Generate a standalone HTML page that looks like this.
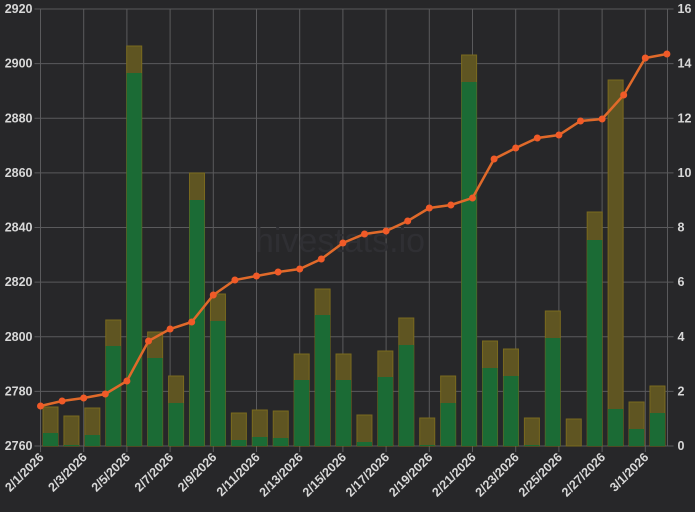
<!DOCTYPE html>
<html><head><style>body{margin:0;background:#272729;}svg{display:block}</style></head><body>
<svg width="695" height="512" xmlns="http://www.w3.org/2000/svg" font-family="Liberation Sans, sans-serif">
<rect width="695" height="512" fill="#272729"/>
<g id="grid" stroke="#5a5a5c" stroke-width="1"></g>
<text x="340" y="252" font-size="34" fill="#2f2f33" text-anchor="middle">hivestats.io</text>
<g id="bars"></g>
<g id="line"></g>
<g id="labels" fill="#d8d8d8" font-size="12.5" font-weight="bold"></g>
<script>
var ns="http://www.w3.org/2000/svg";
function el(p,t,a,txt){var e=document.createElementNS(ns,t);for(var k in a)e.setAttribute(k,a[k]);if(txt!=null)e.textContent=txt;document.getElementById(p).appendChild(e);return e;}
var L=40.5,R=667.5,T=9,B=446;
for(var i=0;i<=8;i++){var y=T+(B-T)*i/8;el("grid","line",{x1:L-6,x2:R+6,y1:y,y2:y});
el("labels","text",{x:L-8,y:y+4,"text-anchor":"end"},2920-20*i);
el("labels","text",{x:R+10,y:y+4},16-2*i);}
for(var i=0;i<15;i++){var x=L+21.6*2*i;el("grid","line",{x1:x,x2:x,y1:T,y2:B+6});
var d=i<14?"2/"+(1+2*i)+"/2026":"3/1/2026";
el("labels","text",{x:0,y:0,"text-anchor":"end",transform:"translate("+(x+4)+","+(B+12)+") rotate(-45)"},d);}
el("grid","line",{x1:R,x2:R,y1:T,y2:B});
var ol=[407,416,408,320,46,332,376,173,294,413,410,411,354,289,354,415,351,318,418,376,55,341,349,418,311,419,212,80,402,386];
var gr=[433,445,435,346,73,358,403,200,321,440,437,438,380,315,380,442,377,345,445,403,82,368,376,445,338,446,240,409,429,413];
for(var i=0;i<30;i++){var x=43+20.93*i;
el("bars","rect",{x:x,y:ol[i],width:15,height:B-ol[i],fill:"#5f5522",stroke:"#7a6a1e","stroke-width":1});
el("bars","rect",{x:x,y:gr[i],width:15,height:B-gr[i],fill:"#1b6b35"});}
var ly=[406,401,398,394,381,341,329,322,295,280,276,272,269,259,243,234,231,221,208,205,198,159,148,138,135,121,119,95,58,54];
var pts=ly.map(function(y,i){return (L+21.6*i)+","+y;}).join(" ");
el("line","polyline",{points:pts,fill:"none",stroke:"#e06a2a","stroke-width":2.5});
ly.forEach(function(y,i){el("line","circle",{cx:L+21.6*i,cy:y,r:3.5,fill:"#f05a28"});});
</script>
</svg>
</body></html>
